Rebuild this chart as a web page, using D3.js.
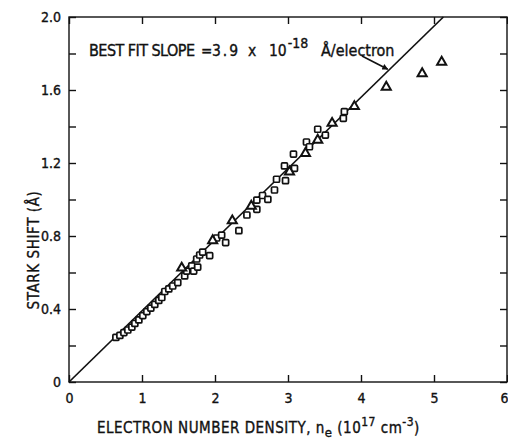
<!DOCTYPE html>
<html>
<head>
<meta charset="utf-8">
<script src="https://cdn.jsdelivr.net/npm/d3@7"></script>
<style>
  html, body { margin: 0; padding: 0; background: #fff; }
  svg { display: block; }
  text { font-family: "Liberation Sans Narrow", "DejaVu Sans Condensed", "Arial Narrow", sans-serif;
         fill: #111; stroke: #111; stroke-width: 0.35px; }
</style>
</head>
<body>
<script>
// Stark shift vs electron number density
const xTickValues = [0, 1, 2, 3, 4, 5, 6];
const xTickLabels = ["0", "1", "2", "3", "4", "5", "6"];
const yTickValues = [0, 0.2, 0.4, 0.6, 0.8, 1.0, 1.2, 1.4, 1.6, 1.8, 2.0];
const yTickLabels = {0: "0", 0.4: "0.4", 0.8: "0.8", 1.2: "1.2", 1.6: "1.6", 2.0: "2.0"};

// best fit slope, Å per 10^17 cm^-3  (3.9 x 10^-18 Å/electron)
const fitSlope = 0.39;

// square symbols: [n_e (10^17 cm^-3), shift (Å)]
const squares = [
  [0.642, 0.244], [0.697, 0.255], [0.752, 0.271], [0.806, 0.285], [0.861, 0.301],
  [0.902, 0.321], [0.957, 0.340], [1.011, 0.364], [1.066, 0.386], [1.121, 0.405],
  [1.175, 0.425], [1.230, 0.447], [1.271, 0.463], [1.312, 0.496], [1.367, 0.510],
  [1.421, 0.526], [1.490, 0.545], [1.585, 0.581], [1.613, 0.608], [1.681, 0.636],
  [1.708, 0.608], [1.763, 0.630], [1.749, 0.674], [1.790, 0.696], [1.831, 0.712],
  [1.927, 0.693], [2.023, 0.789], [2.091, 0.805], [2.146, 0.764], [2.327, 0.829],
  [2.437, 0.915], [2.573, 0.997], [2.573, 0.946], [2.651, 1.022], [2.724, 1.001],
  [2.815, 1.052], [2.843, 1.111], [2.952, 1.184], [2.966, 1.103], [3.089, 1.171],
  [3.075, 1.249], [3.253, 1.315], [3.294, 1.289], [3.407, 1.385], [3.512, 1.353],
  [3.772, 1.481], [3.758, 1.445]
];

// triangle symbols
const triangles = [
  [1.544, 0.625], [1.968, 0.775], [2.237, 0.884], [2.497, 0.964], [3.020, 1.152],
  [3.239, 1.253], [3.407, 1.326], [3.604, 1.418], [3.909, 1.510], [4.346, 1.616],
  [4.838, 1.690], [5.105, 1.753]
];

const W = 508, H = 445;
const svg = d3.select("body").append("svg").attr("width", W).attr("height", H);

const x = d3.scaleLinear().domain([0, 6]).range([69, 507]);
const y = d3.scaleLinear().domain([0, 2]).range([382, 17]);

const tickLen = 7;

// frame
svg.append("rect")
  .attr("x", x(0)).attr("y", y(2))
  .attr("width", x(6) - x(0)).attr("height", y(0) - y(2))
  .attr("fill", "none").attr("stroke", "#111").attr("stroke-width", 1.4);

function styleAxis(g) {
  g.select(".domain").remove();
  g.selectAll(".tick line").attr("stroke", "#111").attr("stroke-width", 1.4);
  g.selectAll(".tick text").attr("fill", "#111").style("font-size", "14px");
}

const xAxisG = svg.append("g").attr("transform", `translate(0,${y(0)})`)
  .call(d3.axisBottom(x).tickValues(xTickValues).tickSize(-tickLen).tickPadding(11)
    .tickFormat((d, i) => xTickLabels[i]))
  .call(styleAxis);
// the last label sits against the right edge
xAxisG.selectAll(".tick text").filter(d => d === 6).attr("text-anchor", "end").attr("x", 1);

svg.append("g").attr("transform", `translate(0,${y(2)})`)
  .call(d3.axisTop(x).tickValues(xTickValues).tickSize(-tickLen).tickFormat(""))
  .call(styleAxis);

svg.append("g").attr("transform", `translate(${x(0)},0)`)
  .call(d3.axisLeft(y).tickValues(yTickValues).tickSize(-tickLen).tickPadding(8)
    .tickFormat(d => yTickLabels[Math.round(d * 10) / 10] || ""))
  .call(styleAxis);

svg.append("g").attr("transform", `translate(${x(6)},0)`)
  .call(d3.axisRight(y).tickValues(yTickValues).tickSize(-tickLen).tickFormat(""))
  .call(styleAxis);

// best fit line through the origin
const xEnd = 2.0 / fitSlope;
svg.append("line")
  .attr("x1", x(0)).attr("y1", y(0))
  .attr("x2", x(xEnd)).attr("y2", y(fitSlope * xEnd))
  .attr("stroke", "#111").attr("stroke-width", 1.7);

// symbols
const sq = 6;
svg.append("g").selectAll("rect").data(squares).join("rect")
  .attr("x", d => x(d[0]) - sq / 2).attr("y", d => y(d[1]) - sq / 2)
  .attr("width", sq).attr("height", sq).attr("rx", 1)
  .attr("fill", "#fff").attr("stroke", "#111").attr("stroke-width", 1.7);

const tri = d3.symbol().type(d3.symbolTriangle).size(36);
svg.append("g").selectAll("path").data(triangles).join("path")
  .attr("d", tri)
  .attr("transform", d => `translate(${x(d[0])},${y(d[1])})`)
  .attr("fill", "#fff").attr("stroke", "#111").attr("stroke-width", 2)
  .attr("stroke-linejoin", "miter");

// legend annotation
const note = svg.append("g");
note.append("text").attr("x", 89).attr("y", 55.5).style("font-size", "16px")
  .attr("textLength", 106).attr("lengthAdjust", "spacing").text("BEST FIT SLOPE");
note.append("text").attr("x", 201).attr("y", 55.5).style("font-size", "15px").text("=");
note.append("text").attr("x", 212).attr("y", 55.5).style("font-size", "15.5px")
  .style("letter-spacing", "2px").text("3.9");
note.append("text").attr("x", 248).attr("y", 55.5).style("font-size", "15.5px").text("x");
const pw = note.append("text").attr("x", 269).attr("y", 55.5).style("font-size", "15.5px");
pw.append("tspan").text("10");
pw.append("tspan").attr("dy", -8).attr("dx", 1).style("font-size", "14px").text("-18");
note.append("text").attr("x", 321).attr("y", 55.5).style("font-size", "16px").text("Å/electron");

// arrow pointing at the fit line
const tipX = 4.38;
const tip = [x(tipX) - 1, y(fitSlope * tipX) - 1];
const tail = [362, 56];
svg.append("defs").append("marker")
  .attr("id", "ah").attr("viewBox", "0 0 10 10").attr("refX", 9).attr("refY", 5)
  .attr("markerWidth", 10).attr("markerHeight", 6).attr("orient", "auto")
  .attr("markerUnits", "userSpaceOnUse")
  .append("path").attr("d", "M0,0 L10,5 L0,10 Z").attr("fill", "#111");
svg.append("line")
  .attr("x1", tail[0]).attr("y1", tail[1]).attr("x2", tip[0]).attr("y2", tip[1])
  .attr("stroke", "#111").attr("stroke-width", 1.6).attr("marker-end", "url(#ah)");

// axis titles
const xt = svg.append("text").attr("x", 97).attr("y", 433).style("font-size", "15px")
  .style("letter-spacing", "0.5px");
xt.append("tspan").text("ELECTRON  NUMBER  DENSITY,  n");
xt.append("tspan").attr("dy", 4).style("font-size", "13px").text("e");
xt.append("tspan").attr("dy", -4).text("  (10");
xt.append("tspan").attr("dy", -7).style("font-size", "12px").text("17");
xt.append("tspan").attr("dy", 7).text(" cm");
xt.append("tspan").attr("dy", -7).style("font-size", "12px").text("-3");
xt.append("tspan").attr("dy", 7).text(")");

svg.append("text")
  .attr("transform", "translate(39,250) rotate(-90)")
  .attr("text-anchor", "middle").style("font-size", "15px")
  .style("letter-spacing", "0.6px")
  .text("STARK  SHIFT  (Å)");
</script>
</body>
</html>
